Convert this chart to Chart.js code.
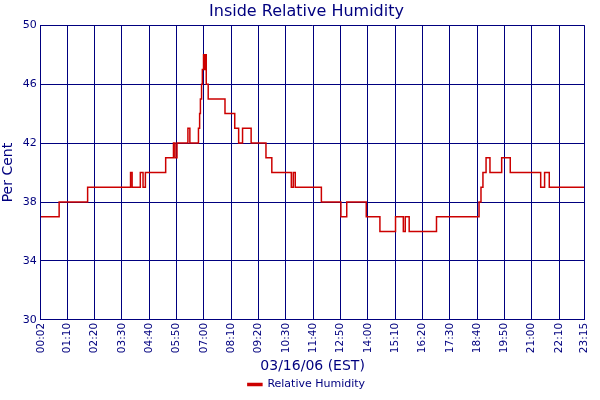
<!DOCTYPE html>
<html><head><meta charset="utf-8">
<script src="https://cdn.jsdelivr.net/npm/chart.js@4/dist/chart.umd.min.js"></script>
<style>html,body{margin:0;padding:0;background:#fff}#w{width:600px;height:400px}</style>
</head><body><div id="w"><canvas id="c"></canvas></div>
<script>
const tickMinutes = [2,70,140,210,280,350,420,490,560,630,700,770,840,910,980,1050,1120,1190,1260,1330,1395];
const tickLabels = ["00:02","01:10","02:20","03:30","04:40","05:50","07:00","08:10","09:20","10:30","11:40","12:50","14:00","15:10","16:20","17:30","18:40","19:50","21:00","22:10","23:15"];
const times = [2,49,122,232,236,257,264,270,322,342,346,351,379,384,406,409,411,414,416,419,421,423,426,431,474,499,509,519,541,579,594,644,649,654,721,771,786,836,871,911,931,936,946,1016,1125,1130,1135,1143,1153,1183,1205,1283,1293,1305,1395];
const humidity = [37,38,39,40,39,40,39,40,41,42,41,42,43,42,43,44,45,46,47,48,47,48,46,45,44,43,42,43,42,41,40,39,40,39,38,37,38,37,36,37,36,37,36,37,38,39,40,41,40,41,40,39,40,39,39];
const navy = '#00007f';
const pts = times.map((t,i)=>({x:t,y:humidity[i]}));
new Chart(document.getElementById('c'),{
  type:'line',
  data:{datasets:[{label:'Relative Humidity',data:pts,borderColor:'#cc0000',backgroundColor:'#cc0000',borderWidth:1.5,pointRadius:0,stepped:'before',fill:false}]},
  options:{
    responsive:true,maintainAspectRatio:false,animation:false,
    layout:{padding:{left:0,right:-13,top:2,bottom:0}},
    plugins:{
      title:{display:true,text:'Inside Relative Humidity',color:navy,font:{family:'DejaVu Sans',size:16,weight:'normal'},padding:{top:0,bottom:4}},
      legend:{position:'bottom',labels:{color:navy,font:{family:'DejaVu Sans',size:11},boxWidth:14,boxHeight:2,padding:4}},
      tooltip:{enabled:false}
    },
    scales:{
      x:{type:'linear',min:2,max:1395,
        afterBuildTicks:s=>{s.ticks=tickMinutes.map(v=>({value:v}));},
        ticks:{color:navy,font:{family:'DejaVu Sans',size:10.5},maxRotation:90,minRotation:90,autoSkip:false,padding:3,
          callback:(v,i)=>tickLabels[i]},
        grid:{color:navy,drawTicks:false},border:{color:navy},
        title:{display:true,text:'03/16/06 (EST)',color:navy,font:{family:'DejaVu Sans',size:14},padding:{top:2,bottom:0}}},
      y:{min:30,max:50,
        ticks:{stepSize:4,color:navy,font:{family:'DejaVu Sans',size:11},padding:4},
        grid:{color:navy,drawTicks:false},border:{color:navy},
        title:{display:true,text:'Per Cent',color:navy,font:{family:'DejaVu Sans',size:14},padding:{top:0,bottom:2}}}
    }
  }
});
</script></body></html>
